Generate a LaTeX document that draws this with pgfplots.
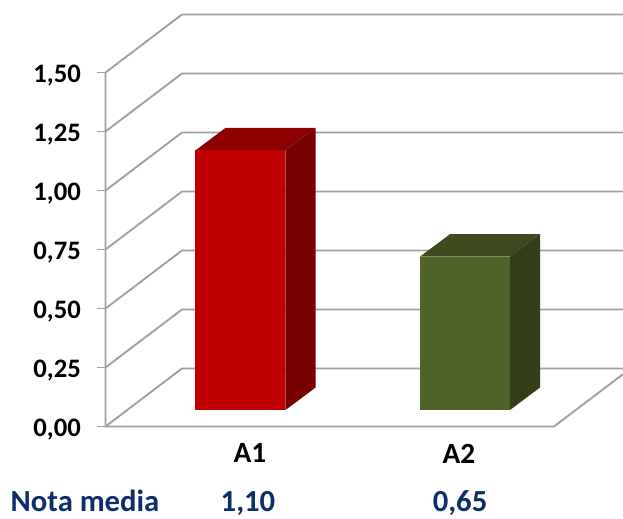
\documentclass[border=0pt]{standalone}
\usepackage{pgfplots}
\pgfplotsset{compat=1.18}
\usepackage{fontspec}
\setmainfont{Carlito}
\definecolor{wall}{HTML}{A0A0A0}
\definecolor{redfront}{HTML}{C00000}
\definecolor{redtop}{HTML}{8C0000}
\definecolor{redside}{HTML}{780000}
\definecolor{greenfront}{HTML}{4F6228}
\definecolor{greentop}{HTML}{3D4B1E}
\definecolor{greenside}{HTML}{333F19}
\definecolor{notecol}{HTML}{0F2C6B}
\tikzset{notemark/.style={anchor=base, text=notecol, font=\fontsize{23}{26}\bfseries\selectfont}}
\begin{document}
\begin{tikzpicture}
\useasboundingbox (0pt,0pt) rectangle (467.25pt,388.5pt);
\begin{axis}[
  at={(79.125pt,68.625pt)}, anchor=south west,
  scale only axis, width=388.125pt, height=309pt,
  xmin=0.3987, xmax=2.7038, ymin=0, ymax=1.7458,
  clip=false,
  axis line style={draw=none},
  xtick={1.0423,1.9733}, xticklabels={A1,A2},
  ytick={0,0.25,0.5,0.75,1,1.25,1.5},
  xtick pos=bottom, ytick pos=left,
  tick align=outside, major tick length=6pt,
  x tick style={draw=none},
  y tick style={draw=wall, line width=1.4pt},
  y tick label style={/pgf/number format/fixed, /pgf/number format/fixed zerofill, /pgf/number format/precision=2, /pgf/number format/use comma, /pgf/number format/assume math mode=true},
  yticklabel style={font=\fontsize{20}{23}\bfseries\selectfont, text=black, xshift=-9pt, yshift=-2pt},
  xticklabel style={font=\fontsize{22}{25}\bfseries\selectfont, text=black, yshift=-3.5pt},
  gridline/.style={draw=wall, line width=1.4pt, line join=miter, no markers, forget plot},
]
% Back and floor lines of the box
\addplot[gridline] coordinates {(0.3987,0)(0.7394,0.2458)(2.7038,0.2458)};
\addplot[gridline] coordinates {(0.3987,0.25)(0.7394,0.4958)(2.7038,0.4958)};
\addplot[gridline] coordinates {(0.3987,0.5)(0.7394,0.7458)(2.7038,0.7458)};
\addplot[gridline] coordinates {(0.3987,0.75)(0.7394,0.9958)(2.7038,0.9958)};
\addplot[gridline] coordinates {(0.3987,1)(0.7394,1.2458)(2.7038,1.2458)};
\addplot[gridline] coordinates {(0.3987,1.25)(0.7394,1.4958)(2.7038,1.4958)};
\addplot[gridline] coordinates {(0.3987,1.5)(0.7394,1.7458)(2.7038,1.7458)};
\addplot[gridline] coordinates {(0.3987,1.5)(0.3987,0)(2.3964,0)(2.7038,0.2217)};
% Bar A1: side, top, front, all lifted to the depth of the bars
\addplot[fill=redside, draw=none, forget plot, yshift=12.375pt] coordinates {(1.2004,0)(1.3341,0.0953)(1.3341,1.1953)(1.2004,1.10)} -- cycle;
\addplot[fill=redtop, draw=none, forget plot, yshift=12.375pt] coordinates {(0.7996,1.10)(1.2004,1.10)(1.3341,1.1953)(0.9333,1.1953)} -- cycle;
\addplot[ybar, bar width=67.5pt, bar shift=0pt, fill=redfront, draw=none, forget plot, yshift=12.375pt] coordinates {(1,1.10)};
% Bar A2
\addplot[fill=greenside, draw=none, forget plot, yshift=12.375pt] coordinates {(2.2004,0)(2.3341,0.0953)(2.3341,0.7453)(2.2004,0.65)} -- cycle;
\addplot[fill=greentop, draw=none, forget plot, yshift=12.375pt] coordinates {(1.7996,0.65)(2.2004,0.65)(2.3341,0.7453)(1.9333,0.7453)} -- cycle;
\addplot[ybar, bar width=67.5pt, bar shift=0pt, fill=greenfront, draw=none, forget plot, yshift=12.375pt] coordinates {(2,0.65)};
% Row of mean marks under the categories
\node[notemark] at (axis cs:0.3073,-0.3602) {Nota media};
\node[notemark] at (axis cs:1.0334,-0.3602) {1,10};
\node[notemark] at (axis cs:1.9778,-0.3602) {0,65};
\end{axis}
\end{tikzpicture}
\end{document}
